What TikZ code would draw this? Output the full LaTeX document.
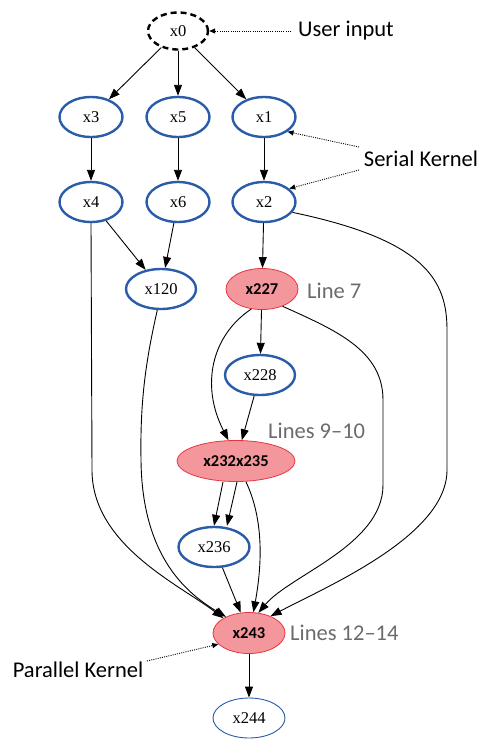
\documentclass[tikz,border=0pt]{standalone}
\usepackage{fontspec}
\setmainfont{Liberation Serif}
\newfontfamily\carl{Carlito}
\usetikzlibrary{arrows.meta,shapes.geometric}
\definecolor{gvblue}{HTML}{2A5CA8}
\definecolor{pinkfill}{HTML}{F4979C}
\definecolor{pinkline}{HTML}{E8353F}
\definecolor{lbl}{HTML}{6B6B6B}
\begin{document}
\begin{tikzpicture}[x=1pt,y=-1pt,
 var/.style={ellipse,draw=gvblue,line width=2.4pt,minimum width=63pt,minimum height=40pt,inner sep=0pt,font=\fontsize{16.5}{19}\selectfont},
 hot/.style={ellipse,draw=pinkline,fill=pinkfill,line width=0.8pt,minimum width=72pt,minimum height=41pt,inner sep=0pt,font=\carl\bfseries\fontsize{16.5}{19}\selectfont},
 edge/.style={-{Triangle[length=11pt,width=8pt]},line width=0.9pt},
 note/.style={font=\carl\fontsize{22.5}{26}\selectfont,inner sep=0pt},
 lineno/.style={font=\carl\fontsize{22.5}{26}\selectfont,text=lbl,inner sep=0pt,anchor=west},
 pointer/.style={dash pattern=on 1pt off 1.2pt,line width=0.9pt,-{Triangle[length=6pt,width=5pt]}}
]
\useasboundingbox (0,0) rectangle (480,740);

% nodes
\node[ellipse,draw=black,dash pattern=on 6pt off 4pt,line width=2.4pt,minimum width=60pt,minimum height=37pt,inner sep=0pt,font=\fontsize{16.5}{19}\selectfont] (x0) at (178,31) {x0};
\node[var] (x3) at (91,117) {x3};
\node[var] (x5) at (178,117) {x5};
\node[var] (x1) at (264,117) {x1};
\node[var] (x4) at (91,202) {x4};
\node[var] (x6) at (178,202) {x6};
\node[var] (x2) at (264,202) {x2};
\node[var,minimum width=70pt] (x120) at (161,289) {x120};
\node[hot] (x227) at (262,289) {x227};
\node[var,minimum width=70pt] (x228) at (260,375) {x228};
\node[hot,minimum width=118pt] (x232) at (236,461) {x232x235};
\node[var,minimum width=71pt] (x236) at (214,547) {x236};
\node[hot] (x243) at (249,633) {x243};
\node[var,line width=0.9pt,minimum width=72pt,minimum height=40pt] (x244) at (249,718) {x244};

% annotations
\node[note] (ui) at (346,31) {User input};
\node[note] (sk) at (421,159) {Serial Kernel};
\node[note] (pk) at (78,670) {Parallel Kernel};
\node[lineno] (l7) at (307,291) {Line 7};
\node[lineno] (l9) at (268,431) {Lines 9–10};
\node[lineno] (l12) at (290,633) {Lines 12–14};

\coordinate (sk1) at (359,147);
\coordinate (sk2) at (359,170);
\coordinate (pk1) at (147,661);

\draw[pointer,shorten <=7pt] (ui.west) -- (x0.east);
\draw[pointer] (sk1) -- (x1.-32);
\draw[pointer] (sk2) -- (x2.28);
\draw[pointer] (pk1) -- (x243.200);

% edges
\draw[edge] (x0) -- (x3);
\draw[edge] (x0) -- (x5);
\draw[edge] (x0) -- (x1);
\draw[edge] (x3) -- (x4);
\draw[edge] (x5) -- (x6);
\draw[edge] (x1) -- (x2);
\draw[edge] (x4) -- (x120);
\draw[edge] (x6) -- (x120);
\draw[edge] (x2) -- (x227);
\draw[edge] (x227) -- (x228);
\draw[edge] (x228) -- (x232);
\draw[edge] (x227.-118) .. controls (212,335) and (200,385) .. (x232.110);
\draw[edge] ([xshift=-13pt]x232.south) -- (x236.north);
\draw[edge] ([xshift=1pt]x232.south) -- ([xshift=13pt]x236.north);
\draw[edge] (x236) -- (x243);
\draw[edge] ([xshift=10pt]x232.south) .. controls (264,520) and (262,565) .. (x243.78);
\draw[edge] (x227.-40) .. controls (335,330) and (383,350) .. (383,400) -- (383,485) .. controls (383,545) and (290,575) .. (x243.65);
\draw[edge] (x2.-20) .. controls (425,240) and (447,280) .. (447,330) -- (447,470) .. controls (447,535) and (330,585) .. (x243.38);
\draw[edge] (x4.south) -- (92,470) .. controls (92,545) and (180,585) .. (x243.150);
\draw[edge] (x120.-100) .. controls (146,360) and (140,400) .. (141,460) .. controls (142,560) and (190,595) .. (x243.145);
\draw[edge] (x243) -- (x244);
\end{tikzpicture}
\end{document}
